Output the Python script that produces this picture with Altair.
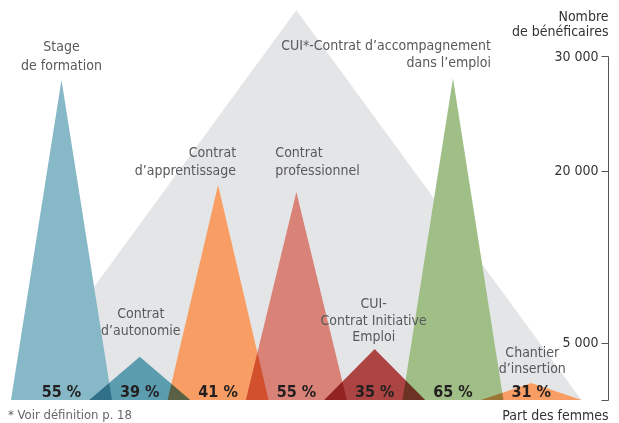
import altair as alt
import pandas as pd

# ---------------- data ----------------
programmes = [
    "Stage de formation",
    "Contrat d’autonomie",
    "Contrat d’apprentissage",
    "Contrat professionnel",
    "CUI-Contrat Initiative Emploi",
    "CUI*-Contrat d’accompagnement dans l’emploi",
    "Chantier d’insertion",
]
beneficiaires = [27900, 3780, 18750, 18130, 4450, 28070, 1480]
part_femmes = [55, 39, 41, 55, 35, 65, 31]
etiquettes = [
    ["Stage", "de formation"],
    ["Contrat", "d’autonomie"],
    ["Contrat", "d’apprentissage"],
    ["Contrat", "professionnel"],
    ["CUI-", "Contrat Initiative", "Emploi"],
    ["CUI*-Contrat d’accompagnement", "dans l’emploi"],
    ["Chantier", "d’insertion"],
]
forme_totale = 34000
graduations = [0, 5000, 20000, 30000]
note = "* Voir définition p. 18"

# ---------------- style / layout ----------------
couleurs = ["#86b8c7", "#5b9caf", "#f89d63", "#d98277", "#ac4443", "#a0bf87", "#f89d63"]
FOND = "#e4e5e7"
FONT = "'Liberation Sans Narrow', 'DejaVu Sans Condensed', 'Arial Narrow', sans-serif"
FS = 14
W, H = 600, 344
Y_MAX = 30000
X_DOM = [-0.683, 6.98]
HALF = 0.645
HALF_TOTAL = 3.64
PX_X = W / (X_DOM[1] - X_DOM[0])
PX_Y = H / Y_MAX
# align, dx (px), gap above peak (px), line height (px)
mise_en_page = [
    ("center", 0, 10.5, 19),
    ("center", 1, 21.5, 17),
    ("right", 18, 10, 18.5),
    ("left", -21, 17, 18.5),
    ("center", -1, 7.5, 16.7),
    ("right", 38, 11, 17),
    ("center", 1, 10, 16.5),
]

# ---------------- tables ----------------
tri_rows = []
for i, (n, v) in enumerate(zip(programmes, beneficiaires)):
    tri_rows += [
        {"name": n, "x": i - HALF, "y": 0},
        {"name": n, "x": i, "y": v},
        {"name": n, "x": i + HALF, "y": 0},
    ]
tri_df = pd.DataFrame(tri_rows)

mid = (len(programmes) - 1) / 2
fond_df = pd.DataFrame({
    "x": [mid - HALF_TOTAL, mid, mid + HALF_TOTAL],
    "y": [0, forme_totale, 0],
})

pct_df = pd.DataFrame({
    "x": list(range(len(programmes))),
    "y": [0] * len(programmes),
    "text": [f"{p} %" for p in part_femmes],
})

lab_rows = []
for i, (lines, v, (al, dx, gap, lh)) in enumerate(zip(etiquettes, beneficiaires, mise_en_page)):
    n = len(lines)
    for j, t in enumerate(lines):
        k = n - 1 - j
        lab_rows.append({
            "x": i + dx / PX_X,
            "y": v + (gap + k * lh) / PX_Y,
            "text": t,
            "align": al,
        })
lab_df = pd.DataFrame(lab_rows)

# ---------------- encodings ----------------
xs = alt.Scale(domain=X_DOM, nice=False, zero=False)
ys = alt.Scale(domain=[0, Y_MAX], nice=False, zero=True)
x_axis = alt.Axis(
    domain=False, ticks=False, labels=False, grid=False,
    title="Part des femmes", titleX=W, titleY=19, titleAlign="right",
    titleBaseline="alphabetic", titleFont=FONT, titleFontSize=FS,
    titleFontWeight="normal", titleColor="#333",
)
y_axis = alt.Axis(
    orient="left", offset=-W, values=graduations, grid=False,
    labelExpr="datum.value === 0 ? '' : replace(format(datum.value, ','), ',', ' ')",
    tickSize=7, domainColor="#555", tickColor="#555",
    labelColor="#333", labelFont=FONT, labelFontSize=FS, labelPadding=3,
    title=["Nombre", "de bénéficaires"], titleAngle=0, titleAlign="right",
    titleBaseline="alphabetic", titleX=0, titleY=-36, titleFont=FONT,
    titleFontSize=FS, titleFontWeight="normal", titleColor="#333", titleLineHeight=15,
)
X = alt.X("x:Q", scale=xs, axis=x_axis)
Y = alt.Y("y:Q", scale=ys, axis=y_axis, stack=None)

fond = alt.Chart(fond_df).mark_area(color=FOND).encode(x=X, y=Y)
blanc = alt.Chart(tri_df).mark_area(color="white").encode(x=X, y=Y, detail="name:N")
tri = alt.Chart(tri_df).mark_area(blend="multiply").encode(
    x=X, y=Y,
    color=alt.Color("name:N", scale=alt.Scale(domain=programmes, range=couleurs), legend=None),
)
pct = alt.Chart(pct_df).mark_text(
    baseline="alphabetic", dy=-3, font=FONT, fontSize=16, fontWeight="bold", color="#231f20"
).encode(x=X, y=Y, text="text:N")

labels = []
for al in ["left", "center", "right"]:
    sub = lab_df[lab_df["align"] == al]
    labels.append(
        alt.Chart(sub).mark_text(
            align=al, baseline="alphabetic", font=FONT, fontSize=FS, color="#58595b"
        ).encode(x=X, y=Y, text="text:N")
    )

foot = alt.Chart(pd.DataFrame({"t": [note]})).mark_text(
    align="left", baseline="alphabetic", font=FONT, fontSize=13, color="#666"
).encode(x=alt.value(0), y=alt.value(363), text="t:N")

chart = alt.layer(fond, blanc, tri, pct, *labels, foot).properties(
    width=W, height=H,
    autosize=alt.AutoSizeParams(type="none"),
    padding={"left": 0, "top": 48, "right": 3, "bottom": 23},
).configure_view(stroke=None)

chart.save("out.html", embed_options={"renderer": "svg", "actions": False})
